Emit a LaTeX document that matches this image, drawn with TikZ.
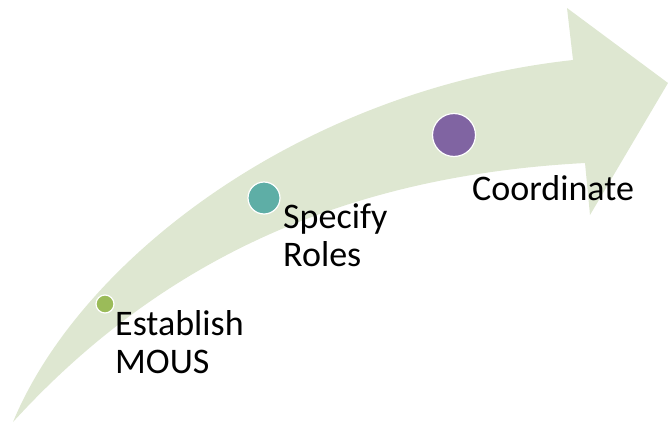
\documentclass[tikz,border=0pt]{standalone}
\usepackage{fontspec}
\setmainfont{Carlito}
\usetikzlibrary{positioning}
\definecolor{bandgreen}{HTML}{DEE7D1}
\definecolor{dotgreen}{HTML}{9BBB59}
\definecolor{dotteal}{HTML}{5EAEA6}
\definecolor{dotpurple}{HTML}{8064A2}

\begin{document}
\begin{tikzpicture}[x=1pt,y=-1pt,
    dot/.style={circle,draw=white,line width=1.2pt,inner sep=0pt},
    steplabel/.style={anchor=base west,align=left,inner sep=0pt,
        font=\fontsize{36}{37.5}\selectfont}]
            \useasboundingbox (0,0) rectangle (668,423);
            \fill[bandgreen] (13,422) .. controls (80,260) and (300,90) .. (573,60)
                -- (567,8) -- (668,83) -- (590,215) -- (585,163)
                .. controls (360,175) and (170,250) .. (13,422) -- cycle;

            \node[dot, fill=dotgreen, minimum size=18pt]  (mous)  at (105,304) {};
            \node[dot, fill=dotteal, minimum size=32pt]   (roles) at (264,198) {};
            \node[dot, fill=dotpurple, minimum size=43pt] (coord) at (454,135) {};

            \node[steplabel] (mous_txt)  at (115,373) {Establish\\MOUS};
            \node[steplabel] (roles_txt) at (283,266) {Specify\\Roles};
            \node[steplabel] (coord_txt) at (472,200) {Coordinate};
    \end{tikzpicture}
\end{document}
